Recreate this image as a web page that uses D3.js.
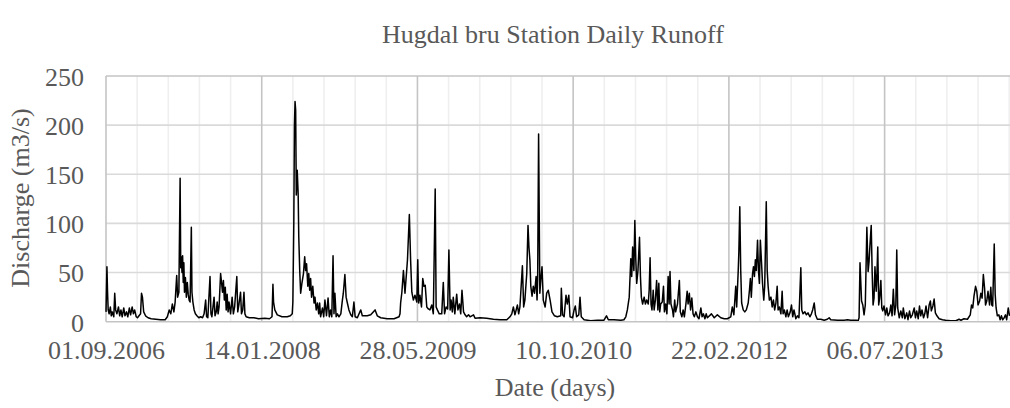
<!DOCTYPE html>
<html>
<head>
<meta charset="utf-8">
<script src="https://cdn.jsdelivr.net/npm/d3@7"></script>
<style>
  html, body { margin: 0; padding: 0; background: #ffffff; }
  svg { display: block; }
  text { font-family: "Liberation Serif", "Times New Roman", serif; fill: #595959; }
</style>
</head>
<body>
<svg id="chart" width="1010" height="408"></svg>
<script>
// ---- DATA (day offset from 01.09.2006, discharge m3/s) ----
const startDate = "2006-09-01";
const lastDay = 2901;
const xTickLabels = ["01.09.2006", "14.01.2008", "28.05.2009", "10.10.2010", "22.02.2012", "06.07.2013"];
const xTickDays = [0, 500, 1000, 1500, 2000, 2500];
const minorStepDays = 100;
const yTicks = [0, 50, 100, 150, 200, 250];

const season2006 = [[0,10],[3,56],[5,30],[7,12],[10,8],[14,15],[17,6],[20,10],[25,5],[28,29],[31,12],[35,8],[40,15],[44,6],[48,12],[52,5],[57,14],[61,6],[66,10],[70,5],[75,14],[79,7],[84,15],[88,8],[92,12],[97,5],[101,4],[106,6],[111,8],[114,29],[117,25],[121,10],[127,6],[135,4],[145,3],[160,2.5],[175,2],[190,2],[197,5]];
const season2007 = [[203,12],[208,8],[213,18],[218,10],[222,20],[227,47],[230,25],[234,30],[238,146],[240,55],[242,66],[244,50],[246,67],[248,40],[250,60],[252,30],[255,45],[258,25],[261,40],[264,28],[267,22],[270,20],[274,96],[276,30],[279,20],[283,12],[287,8],[292,6],[298,4],[304,5],[310,4],[315,8],[320,22],[323,5],[327,4],[334,46],[337,8],[340,5],[347,25],[350,6],[354,10],[357,20],[360,8],[363,15],[368,49],[371,40],[374,30],[377,42],[380,22],[383,35],[386,12],[389,28],[392,10],[395,20],[400,8],[405,25],[409,8],[413,15],[420,46],[423,10],[427,18],[432,30],[435,8],[439,12],[443,30],[446,8],[450,5],[460,4],[475,4],[490,3],[510,3.5],[525,3],[533,5],[536,38],[538,20],[542,12],[550,7],[565,5],[582,5],[592,6],[598,8]];
const season2008 = [[600,20],[603,100],[605,200],[607,224],[609,215],[611,129],[614,154],[617,130],[619,86],[622,52],[625,29],[629,39],[634,49],[638,66],[641,52],[644,59],[648,36],[651,49],[654,32],[657,44],[660,25],[664,36],[668,19],[671,25],[675,12],[679,19],[683,8],[686,19],[689,5],[695,14],[699,5],[703,22],[708,6],[713,24],[717,5],[721,12],[725,5],[729,67],[732,8],[735,29],[739,5],[743,8],[748,5],[754,8],[759,22],[762,29],[767,48],[771,25],[775,19],[780,12],[786,7],[791,5],[796,20],[800,5],[807,4],[818,12],[823,6],[839,6],[850,7],[864,12],[871,6],[882,4],[903,3],[925,3],[941,5]];
const season2009 = [[944,8],[946,19],[950,30],[955,52],[960,29],[968,63],[974,109],[978,63],[982,30],[987,22],[992,27],[998,20],[1001,63],[1004,19],[1008,27],[1013,15],[1017,44],[1021,36],[1025,37],[1030,15],[1035,13],[1040,12],[1046,17],[1051,8],[1057,135],[1060,15],[1064,12],[1070,8],[1078,8],[1083,40],[1087,8],[1092,15],[1097,13],[1101,73],[1105,12],[1108,22],[1112,10],[1115,25],[1120,8],[1126,28],[1130,12],[1135,18],[1139,8],[1143,32],[1148,10],[1153,7],[1158,5],[1164,7],[1169,5],[1180,7],[1185,3.5],[1201,4],[1222,3.5],[1244,2.5],[1265,2],[1287,2]];
const season2010 = [[1297,5],[1303,8],[1308,15],[1313,7],[1321,17],[1325,8],[1329,15],[1337,57],[1341,15],[1345,22],[1351,49],[1355,98],[1358,76],[1361,63],[1364,36],[1368,26],[1372,36],[1376,29],[1381,46],[1384,22],[1386,42],[1389,191],[1393,29],[1396,42],[1400,56],[1404,22],[1410,15],[1415,29],[1420,32],[1426,22],[1432,10],[1440,6],[1449,5],[1460,6],[1462,34],[1466,7],[1471,5],[1477,27],[1481,18],[1486,27],[1490,5],[1498,4],[1503,12],[1507,16],[1511,5],[1518,7],[1522,25],[1526,5],[1535,2],[1546,1.5],[1556,1],[1578,1.5],[1599,1.5],[1607,6],[1613,2],[1631,2],[1653,1.5],[1663,2]];
const season2011 = [[1669,5],[1674,12],[1680,25],[1685,64],[1688,46],[1691,76],[1695,52],[1698,103],[1701,64],[1704,39],[1708,52],[1713,86],[1716,46],[1719,25],[1723,18],[1728,25],[1732,18],[1736,22],[1741,18],[1744,32],[1747,65],[1750,18],[1753,12],[1757,32],[1760,12],[1764,22],[1768,42],[1772,12],[1775,39],[1778,10],[1781,18],[1786,20],[1790,36],[1793,10],[1797,18],[1801,8],[1805,46],[1808,18],[1811,51],[1814,18],[1819,12],[1822,5],[1826,22],[1829,10],[1835,18],[1841,42],[1844,10],[1849,5],[1853,12],[1857,5],[1862,18],[1866,31],[1869,18],[1873,29],[1877,12],[1881,24],[1885,8],[1889,5],[1894,10],[1899,5],[1904,3],[1910,14],[1914,5],[1918,8],[1923,3],[1927,8],[1931,4],[1944,8],[1953,4],[1963,7],[1974,4],[1985,3],[1995,3],[2006,5]];
const season2012 = [[2011,15],[2016,7],[2022,36],[2025,15],[2030,52],[2032,71],[2035,117],[2038,52],[2041,19],[2046,12],[2051,10],[2056,12],[2062,19],[2066,32],[2069,44],[2072,25],[2076,49],[2079,56],[2082,46],[2085,63],[2088,52],[2092,83],[2095,52],[2098,39],[2101,83],[2105,59],[2108,39],[2112,22],[2115,36],[2120,122],[2123,52],[2126,36],[2130,22],[2135,25],[2139,15],[2143,22],[2147,12],[2151,19],[2155,36],[2158,12],[2162,15],[2167,8],[2171,31],[2174,8],[2178,12],[2183,5],[2187,12],[2191,5],[2197,10],[2201,17],[2205,5],[2209,12],[2215,3],[2220,6],[2225,4],[2231,55],[2234,12],[2238,8],[2244,10],[2249,7],[2254,9],[2260,5],[2265,8],[2269,12],[2274,19],[2278,7],[2284,2.5],[2295,2.5],[2306,1.5],[2316,2.5],[2322,4],[2327,2],[2349,1.5],[2370,1.5],[2381,2],[2391,1.5],[2409,1.5]];
const season2013 = [[2415,1],[2418,4],[2421,60],[2426,21],[2430,17],[2434,7],[2438,17],[2443,96],[2447,51],[2450,61],[2453,78],[2457,98],[2460,51],[2463,17],[2466,24],[2469,56],[2473,31],[2475,44],[2478,76],[2481,17],[2484,24],[2488,42],[2491,14],[2494,11],[2498,16],[2503,7],[2507,14],[2511,6],[2516,9],[2520,17],[2524,6],[2528,33],[2532,7],[2536,17],[2539,73],[2542,14],[2547,4],[2552,11],[2557,4],[2560,14],[2565,3],[2571,9],[2575,2],[2580,11],[2584,4],[2589,7],[2595,14],[2599,4],[2603,11],[2608,3],[2612,16],[2616,6],[2620,12],[2625,4],[2629,8],[2633,16],[2638,4],[2643,17],[2647,21],[2650,11],[2655,16],[2659,23],[2663,9],[2668,6],[2675,3],[2686,2],[2696,1.5],[2712,1],[2729,1],[2739,2.5],[2745,1.5],[2755,3],[2766,2.5]];
const season2014 = [[2775,7],[2779,17],[2783,14],[2787,26],[2792,36],[2796,31],[2800,17],[2805,21],[2809,29],[2813,24],[2817,48],[2821,34],[2824,17],[2828,21],[2832,31],[2837,17],[2841,35],[2844,17],[2847,16],[2852,79],[2855,28],[2858,14],[2862,6],[2867,7],[2871,2],[2875,6],[2879,2],[2884,4],[2888,7],[2892,2],[2897,14],[2901,6]];

// ---- CHART ----
const start = new Date(startDate + "T00:00:00Z");
const dayToDate = d => d3.utcDay.offset(start, d);
const series = [].concat(season2006, season2007, season2008, season2009, season2010, season2011, season2012, season2013, season2014)
  .map(([d, v]) => ({ date: dayToDate(d), value: v }));

const plot = { left: 106, right: 1009.5, top: 76, bottom: 321.7 };
const svg = d3.select("#chart");

const x = d3.scaleUtc().domain([start, dayToDate(lastDay)]).range([plot.left, plot.right]);
const y = d3.scaleLinear().domain([0, 250]).range([plot.bottom, plot.top]);

// minor vertical gridlines
const minorDates = d3.range(minorStepDays, lastDay + 1, minorStepDays)
  .filter(d => d % 500 !== 0).map(dayToDate);
svg.append("g").selectAll("line").data(minorDates).join("line")
  .attr("x1", d => x(d)).attr("x2", d => x(d))
  .attr("y1", plot.top).attr("y2", plot.bottom)
  .attr("stroke", "#efefef").attr("stroke-width", 1.6);

// horizontal gridlines
svg.append("g").selectAll("line").data(yTicks.filter(t => t > 0)).join("line")
  .attr("x1", plot.left).attr("x2", 1010)
  .attr("y1", d => y(d)).attr("y2", d => y(d))
  .attr("stroke", d => d === 250 ? "#c4c4c4" : "#dadada").attr("stroke-width", 1.6);

// major vertical gridlines
svg.append("g").selectAll("line").data(xTickDays.filter(d => d > 0).map(dayToDate)).join("line")
  .attr("x1", d => x(d)).attr("x2", d => x(d))
  .attr("y1", plot.top).attr("y2", plot.bottom)
  .attr("stroke", "#c4c4c4").attr("stroke-width", 1.6);

// left border
svg.append("line").attr("x1", plot.left).attr("x2", plot.left)
  .attr("y1", plot.top).attr("y2", plot.bottom)
  .attr("stroke", "#c4c4c4").attr("stroke-width", 1.6);

// data line
const line = d3.line().x(d => x(d.date)).y(d => y(d.value));
svg.append("path").datum(series)
  .attr("d", line).attr("fill", "none")
  .attr("stroke", "#000000").attr("stroke-width", 1.5).attr("stroke-linejoin", "round");

// bottom axis line
svg.append("line").attr("x1", plot.left).attr("x2", 1010)
  .attr("y1", plot.bottom).attr("y2", plot.bottom)
  .attr("stroke", "#c4c4c4").attr("stroke-width", 1.6);

// y tick labels
const yAxis = d3.axisLeft(y).tickValues(yTicks).tickSize(0).tickPadding(0);
const gy = svg.append("g").attr("transform", `translate(84,0)`).call(yAxis);
gy.select(".domain").remove();
gy.selectAll("text").style("font-size", "26px").attr("fill", "#595959")
  .style("font-family", "'Liberation Serif', serif").attr("dy", "0.36em");

// x tick labels
const xAxis = d3.axisBottom(x).tickValues(xTickDays.map(dayToDate))
  .tickFormat((d, i) => xTickLabels[i]).tickSize(0).tickPadding(0);
const gx = svg.append("g").attr("transform", `translate(0,341)`).call(xAxis);
gx.select(".domain").remove();
gx.selectAll("text").style("font-size", "26px").attr("fill", "#595959")
  .style("font-family", "'Liberation Serif', serif").attr("dy", "0.71em");

// titles
svg.append("text").attr("x", 553).attr("y", 43).attr("text-anchor", "middle")
  .style("font-size", "26px").text("Hugdal bru Station Daily Runoff");
svg.append("text").attr("x", 555).attr("y", 396).attr("text-anchor", "middle")
  .style("font-size", "26px").text("Date (days)");
svg.append("text").attr("transform", "translate(29,198) rotate(-90)").attr("text-anchor", "middle")
  .style("font-size", "26px").text("Discharge (m3/s)");
</script>
</body>
</html>
